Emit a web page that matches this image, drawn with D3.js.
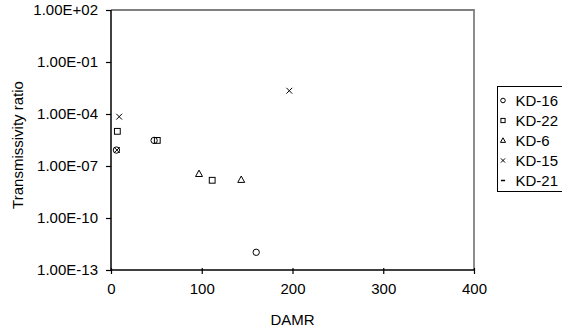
<!DOCTYPE html>
<html>
<head>
<meta charset="utf-8">
<script src="https://cdn.jsdelivr.net/npm/d3@7"></script>
<style>
  body { margin: 0; background: #fff; }
  text { font-family: "Liberation Sans", Arial, sans-serif; font-size: 15px; fill: #000; }
</style>
</head>
<body>
<figure id="chart" style="margin:0"></figure>
<script>
// series: [DAMR, transmissivity ratio]
const kd16 = [[6, 8.3e-7], [47.5, 3e-6], [160, 1.05e-12]];
const kd22 = [[7, 1e-5], [51, 3e-6], [111.5, 1.5e-8]];
const kd6 = [[97, 3.5e-8], [143.5, 1.6e-8]];
const kd15 = [[9, 7e-5], [6.5, 8.3e-7], [196.5, 2.2e-3]];
const kd21 = [];

const seriesNames = ["KD-16", "KD-22", "KD-6", "KD-15", "KD-21"];
const seriesData = [kd16, kd22, kd6, kd15, kd21];
const seriesShapes = ["circle", "square", "triangle", "cross", "dash"];

const xTicks = [0, 100, 200, 300, 400];
const yTicks = [1e-13, 1e-10, 1e-7, 1e-4, 1e-1, 1e2];
const yTickLabels = ["1.00E-13", "1.00E-10", "1.00E-07", "1.00E-04", "1.00E-01", "1.00E+02"];

const width = 562, height = 331;
const plotLeft = 111, plotRight = 474, plotTop = 10, plotBottom = 270;

const svg = d3.select("#chart").append("svg")
  .attr("width", width).attr("height", height);

const x = d3.scaleLinear().domain([0, 400]).range([plotLeft, plotRight]);
const y = d3.scaleLog().domain([1e-13, 1e2]).range([plotBottom, plotTop]);

// plot frame (top and right, grey)
svg.append("path")
  .attr("d", `M${plotLeft},${plotTop}H${plotRight}V${plotBottom}`)
  .attr("fill", "none").attr("stroke", "#808080").attr("stroke-width", 1.8);

const xAxis = svg.append("g")
  .attr("transform", `translate(0,${plotBottom})`)
  .call(d3.axisBottom(x).tickValues(xTicks).tickSize(4).tickPadding(9));
xAxis.select(".domain").attr("stroke-width", 1.5).attr("d", `M${plotLeft},0H${plotRight}`);
xAxis.selectAll(".tick line").attr("y1", -2).attr("stroke-width", 1.2);
xAxis.selectAll("text").style("font-size", "15px").attr("font-family", null);

const yAxis = svg.append("g")
  .attr("transform", `translate(${plotLeft},0)`)
  .call(d3.axisLeft(y).tickValues(yTicks).tickFormat((d, i) => yTickLabels[i]).tickSize(5).tickPadding(8));
yAxis.select(".domain").attr("stroke-width", 1.5).attr("d", `M0,${plotTop}V${plotBottom}`);
yAxis.selectAll(".tick line").attr("stroke-width", 1.2);
yAxis.selectAll("text").style("font-size", "15px").attr("font-family", null);

svg.append("text")
  .attr("x", (plotLeft + plotRight) / 2).attr("y", 325)
  .attr("text-anchor", "middle").text("DAMR");

svg.append("text")
  .attr("transform", `translate(23,145) rotate(-90)`)
  .attr("text-anchor", "middle").text("Transmissivity ratio");

function marker(g, shape, s) {
  if (shape === "circle") {
    g.append("circle").attr("r", s * 0.55).attr("fill", "none").attr("stroke", "#000");
  } else if (shape === "square") {
    g.append("rect").attr("x", -s * 0.5).attr("y", -s * 0.5)
      .attr("width", s).attr("height", s).attr("fill", "none").attr("stroke", "#000");
  } else if (shape === "triangle") {
    g.append("path").attr("d", `M0,${-s * 0.65}L${s * 0.6},${s * 0.45}L${-s * 0.6},${s * 0.45}Z`)
      .attr("fill", "none").attr("stroke", "#000");
  } else if (shape === "cross") {
    g.append("path").attr("d", `M${-s * 0.5},${-s * 0.5}L${s * 0.5},${s * 0.5}M${s * 0.5},${-s * 0.5}L${-s * 0.5},${s * 0.5}`)
      .attr("stroke", "#000");
  } else {
    g.append("path").attr("d", `M${-s * 0.5},0H${s * 0.5}`).attr("stroke", "#000").attr("stroke-width", 1.5);
  }
}

seriesData.forEach((data, i) => {
  svg.append("g").selectAll("g")
    .data(data)
    .enter()
    .append("g")
    .attr("transform", d => `translate(${x(d[0])},${y(d[1])})`)
    .each(function () { marker(d3.select(this), seriesShapes[i], 5.8); });
});

// legend
const legend = svg.append("g").attr("transform", "translate(497.5,86.5)");
legend.append("rect").attr("x", 0).attr("y", 0).attr("width", 80).attr("height", 105)
  .attr("fill", "#fff").attr("stroke", "#000").attr("stroke-width", 1);
seriesNames.forEach((name, i) => {
  const row = legend.append("g").attr("transform", `translate(0,${14 + i * 20})`);
  const m = row.append("g").attr("transform", "translate(5.5,0)");
  marker(m, seriesShapes[i], 4.2);
  row.append("text").attr("x", 18).attr("y", 0).attr("dy", "0.35em").text(name);
});
</script>
</body>
</html>
